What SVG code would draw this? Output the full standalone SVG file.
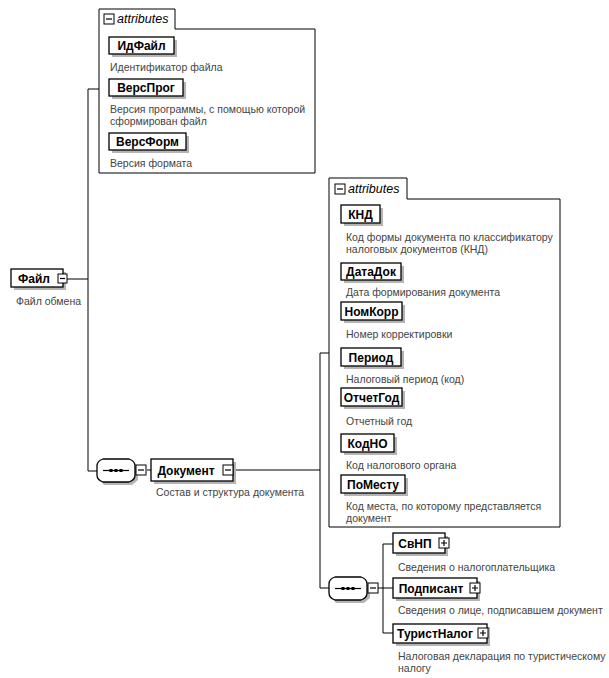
<svg xmlns="http://www.w3.org/2000/svg" width="609" height="678" viewBox="0 0 609 678">
<defs>
<style>
.bg{fill:#fff}
.el{fill:#fff;stroke:#000;stroke-width:1.3}
.sh{fill:#b4b4b4}
.nm{font-family:"Liberation Sans",Arial,sans-serif;font-weight:bold;font-size:12px;fill:#000}
.ds{font-family:"Liberation Sans",Arial,sans-serif;font-size:10.5px;fill:#444}
.at{font-family:"Liberation Sans",Arial,sans-serif;font-style:italic;font-size:12.5px;fill:#000}
.grp{fill:#fff;stroke:#000;stroke-width:1}
.ic{fill:#fff;stroke:#000;stroke-width:1}
.icl{stroke:#000;stroke-width:1.2;fill:none}
.cn{stroke:#000;stroke-width:1;fill:none}
</style>
</defs>
<rect class="bg" width="609" height="678"/>

<g id="connectors">
<path class="cn" d="M67,279 H88 M88,89 V471 M88,89 H99 M88,471 H97"/>
<path class="cn" d="M147,470 H151"/>
<path class="cn" d="M232,470 H320 V353 H329 M320,470 V588 H329"/>
<path class="cn" d="M378,588 H383 M383,544 V633 M383,544 H393 M383,588 H393 M383,633 H393"/>
</g>

<g id="attributes1">
<path class="grp" d="M99,173 V9 H175 V29 H315 V173 Z"/>
<rect class="ic" x="104" y="14" width="10" height="10"/>
<path class="icl" d="M106,19 H112"/>
<text class="at" x="117" y="23">attributes</text>
</g>

<g id="ИдФайл">
<rect class="sh" x="112" y="40" width="65" height="17"/>
<rect class="el" x="109" y="37" width="65" height="17"/>
<text class="nm" x="141.5" y="50" text-anchor="middle">ИдФайл</text>
<text class="ds" x="110" y="71">Идентификатор файла</text>
</g>
<g id="ВерсПрог">
<rect class="sh" x="112" y="82" width="74" height="17"/>
<rect class="el" x="109" y="79" width="74" height="17"/>
<text class="nm" x="146" y="92" text-anchor="middle">ВерсПрог</text>
<text class="ds" x="110" y="113">Версия программы, с помощью которой</text>
<text class="ds" x="110" y="125">сформирован файл</text>
</g>
<g id="ВерсФорм">
<rect class="sh" x="112" y="136" width="77" height="17"/>
<rect class="el" x="109" y="133" width="77" height="17"/>
<text class="nm" x="147.5" y="146" text-anchor="middle">ВерсФорм</text>
<text class="ds" x="110" y="167">Версия формата</text>
</g>

<g id="Файл">
<rect class="sh" x="14" y="272" width="52" height="18"/>
<rect class="el" x="11" y="269" width="52" height="18"/>
<text class="nm" x="34" y="283" text-anchor="middle">Файл</text>
<rect class="ic" x="58" y="274" width="9" height="9"/>
<path class="icl" d="M60,278.5 H65"/>
<text class="ds" x="16" y="305">Файл обмена</text>
</g>

<g id="sequence1">
<path class="sh" d="M104,463 H132 L138,469 V480 L132,485 H104 L100,480 V469 Z"/>
<path class="el" d="M103,459 H129 Q135,461 135,466 V475 Q135,480 129,482 H103 Q97,480 97,475 V466 Q97,461 103,459 Z"/>
<path class="icl" d="M103,470.5 H129"/>
<rect x="109.5" y="469" width="3" height="3" fill="#000"/>
<rect x="114.5" y="469" width="3" height="3" fill="#000"/>
<rect x="119.5" y="469" width="3" height="3" fill="#000"/>
<rect class="ic" x="136" y="465" width="10" height="10"/>
<path class="icl" d="M138,470 H144"/>
</g>

<g id="Документ">
<rect class="sh" x="154" y="462" width="82" height="22"/>
<rect class="el" x="151" y="459" width="82" height="22"/>
<text class="nm" x="186" y="474.5" text-anchor="middle">Документ</text>
<rect class="ic" x="223" y="465" width="10" height="10"/>
<path class="icl" d="M225,470 H231"/>
<text class="ds" x="156" y="496">Состав и структура документа</text>
</g>

<g id="attributes2">
<path class="grp" d="M329,527 V178 H407 V199 H560 V527 Z"/>
<rect class="ic" x="335" y="184" width="10" height="10"/>
<path class="icl" d="M337,189 H343"/>
<text class="at" x="348" y="193">attributes</text>
</g>

<g id="КНД">
<rect class="sh" x="344" y="208" width="39" height="18"/>
<rect class="el" x="341" y="205" width="39" height="18"/>
<text class="nm" x="360.5" y="219" text-anchor="middle">КНД</text>
<text class="ds" x="346" y="241">Код формы документа по классификатору</text>
<text class="ds" x="346" y="253">налоговых документов (КНД)</text>
</g>
<g id="ДатаДок">
<rect class="sh" x="344" y="266" width="60" height="17"/>
<rect class="el" x="341" y="263" width="60" height="17"/>
<text class="nm" x="371" y="276" text-anchor="middle">ДатаДок</text>
<text class="ds" x="346" y="296">Дата формирования документа</text>
</g>
<g id="НомКорр">
<rect class="sh" x="344" y="305" width="61" height="18"/>
<rect class="el" x="341" y="302" width="61" height="18"/>
<text class="nm" x="371.5" y="316" text-anchor="middle">НомКорр</text>
<text class="ds" x="346" y="338">Номер корректировки</text>
</g>
<g id="Период">
<rect class="sh" x="344" y="351" width="60" height="18"/>
<rect class="el" x="341" y="348" width="60" height="18"/>
<text class="nm" x="371" y="362" text-anchor="middle">Период</text>
<text class="ds" x="346" y="383">Налоговый период (код)</text>
</g>
<g id="ОтчетГод">
<rect class="sh" x="344" y="391" width="61" height="18"/>
<rect class="el" x="341" y="388" width="61" height="18"/>
<text class="nm" x="371.5" y="402" text-anchor="middle">ОтчетГод</text>
<text class="ds" x="346" y="425">Отчетный год</text>
</g>
<g id="КодНО">
<rect class="sh" x="344" y="437" width="53" height="18"/>
<rect class="el" x="341" y="434" width="53" height="18"/>
<text class="nm" x="367.5" y="448" text-anchor="middle">КодНО</text>
<text class="ds" x="346" y="469">Код налогового органа</text>
</g>
<g id="ПоМесту">
<rect class="sh" x="344" y="478" width="64" height="18"/>
<rect class="el" x="341" y="475" width="64" height="18"/>
<text class="nm" x="373" y="489" text-anchor="middle">ПоМесту</text>
<text class="ds" x="346" y="510">Код места, по которому представляется</text>
<text class="ds" x="346" y="522">документ</text>
</g>

<g id="sequence2">
<path class="sh" d="M336,581 H364 L370,587 V598 L364,603 H336 L332,598 V587 Z"/>
<path class="el" d="M335,577 H361 Q367,579 367,584 V593 Q367,598 361,600 H335 Q329,598 329,593 V584 Q329,579 335,577 Z"/>
<path class="icl" d="M335,588.5 H361"/>
<rect x="341.5" y="587" width="3" height="3" fill="#000"/>
<rect x="346.5" y="587" width="3" height="3" fill="#000"/>
<rect x="351.5" y="587" width="3" height="3" fill="#000"/>
<rect class="ic" x="368" y="583" width="10" height="10"/>
<path class="icl" d="M370,588 H376"/>
</g>

<g id="СвНП">
<rect class="sh" x="396" y="536" width="52" height="20"/>
<rect class="el" x="393" y="533" width="52" height="20"/>
<text class="nm" x="415" y="547.5" text-anchor="middle">СвНП</text>
<rect class="ic" x="439" y="538" width="10" height="10"/>
<path class="icl" d="M441,543 H447 M444,540 V546"/>
<text class="ds" x="398" y="571">Сведения о налогоплательщика</text>
</g>
<g id="Подписант">
<rect class="sh" x="396" y="581" width="84" height="20"/>
<rect class="el" x="393" y="578" width="84" height="20"/>
<text class="nm" x="431" y="592.5" text-anchor="middle">Подписант</text>
<rect class="ic" x="470" y="583" width="10" height="10"/>
<path class="icl" d="M472,588 H478 M475,585 V591"/>
<text class="ds" x="398" y="614">Сведения о лице, подписавшем документ</text>
</g>
<g id="ТуристНалог">
<rect class="sh" x="396" y="627" width="94" height="19"/>
<rect class="el" x="393" y="624" width="94" height="19"/>
<text class="nm" x="435" y="638" text-anchor="middle">ТуристНалог</text>
<rect class="ic" x="478" y="628" width="10" height="10"/>
<path class="icl" d="M480,633 H486 M483,630 V636"/>
<text class="ds" x="398" y="660">Налоговая декларация по туристическому</text>
<text class="ds" x="398" y="672">налогу</text>
</g>
</svg>
